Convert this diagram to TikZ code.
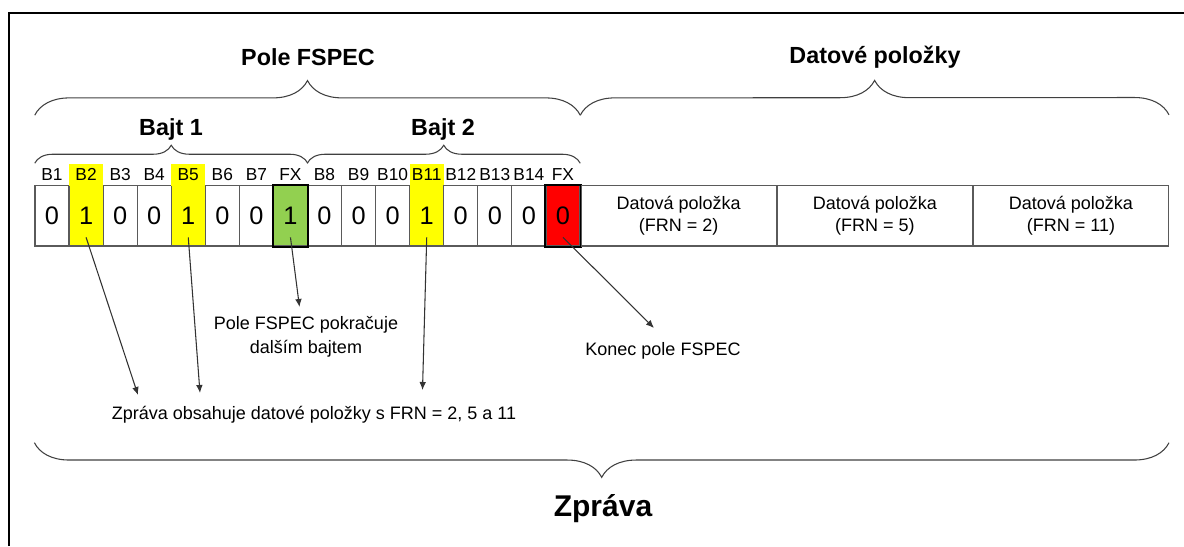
\documentclass[tikz,border=0pt]{standalone}
\usepackage{fontspec}
\setmainfont{Liberation Sans}
\usetikzlibrary{arrows.meta,decorations.pathreplacing}
\definecolor{hiyellow}{HTML}{FFFF00}
\definecolor{fxgreen}{HTML}{92D050}
\definecolor{fxred}{HTML}{FF0000}
\definecolor{cellline}{HTML}{5A5A5A}

\begin{document}
\begin{tikzpicture}[x=0.75pt,y=-0.75pt,
    bit/.style={draw=cellline,line width=0.9pt,minimum width=25.55pt,minimum height=45.5pt,
      inner sep=0pt,font=\fontsize{19}{19}\selectfont},
    item/.style={draw=cellline,line width=0.9pt,minimum width=146.2pt,minimum height=45.5pt,
      inner sep=0pt,align=center,font=\fontsize{13.5}{16.5}\selectfont},
    blabel/.style={minimum width=25.55pt,minimum height=16.5pt,inner sep=0pt,
      font=\fontsize{13}{13}\selectfont},
    fxbox/.style={draw=black,line width=1.6pt},
    title/.style={font=\fontsize{17.5}{17.5}\selectfont\bfseries},
    note/.style={align=center,font=\fontsize{13.5}{18}\selectfont},
    brace/.style={decorate,decoration={brace,amplitude=#1},draw=black!75,line width=0.8pt},
    arr/.style={-{Latex[length=6pt,width=5pt]},line width=0.8pt,draw=black!80}]
\useasboundingbox (0,0) rectangle (1184,546);
% frame (cut at the right and bottom)
\draw[line width=1.6pt] (9,546) -- (9,13) -- (1184,13);

% FSPEC bits
\foreach \b/\f/\h/\l [count=\i] in {0/white/none/B1,1/hiyellow/hiyellow/B2,0/white/none/B3,
    0/white/none/B4,1/hiyellow/hiyellow/B5,0/white/none/B6,0/white/none/B7,1/fxgreen/none/FX,
    0/white/none/B8,0/white/none/B9,0/white/none/B10,1/hiyellow/hiyellow/B11,0/white/none/B12,
    0/white/none/B13,0/white/none/B14,0/fxred/none/FX}
{
  \node[bit,fill=\f] (c\i) at ({35+34.0625*(\i-0.5)},215.75) {\b};
  \node[blabel,fill=\h] (l\i) at ({35+34.0625*(\i-0.5)},174.5) {\l};
}
\draw[fxbox] (c8.north west) rectangle (c8.south east);
\draw[fxbox] (c16.north west) rectangle (c16.south east);

% data items
\node[item,anchor=west] (d1) at (c16.east) {Datová položka\\(FRN = 2)};
\node[item,anchor=west] (d2) at (d1.east) {Datová položka\\(FRN = 5)};
\node[item,anchor=west] (d3) at (d2.east) {Datová položka\\(FRN = 11)};

% braces
\draw[brace=13.5pt] (l1.north west) -- (l8.north east);
\draw[brace=13.5pt] (l9.north west) -- (l16.north east);
\draw[brace=26pt] ([yshift=36pt]l1.north west) -- ([yshift=36pt]l16.north east);
\draw[brace=26pt] ([yshift=36pt]l16.north east) -- ([yshift=52.5pt]d3.north east);
\draw[brace=26pt] ([yshift=-147pt]d3.south east) -- ([yshift=-147pt]c1.south west);

\node[title] (bajt1) at (171,129) {Bajt 1};
\node[title] (bajt2) at (443,129) {Bajt 2};
\node[title] (fspec) at (308,57) {Pole FSPEC};
\node[title] (items) at (875,57) {Datové položky};
\node[font=\fontsize{22.5}{22.5}\selectfont\bfseries] (msgall) at (603,509) {Zpráva};

% notes
\node[note] (cont) at (306,337) {Pole FSPEC pokračuje\\dalším bajtem};
\node[note] (endfs) at (663,351) {Konec pole FSPEC};
\node[note] (frn) at (314,415) {Zpráva obsahuje datové položky s FRN = 2, 5 a 11};

\coordinate (e2) at (138,395);
\coordinate (e5) at (200,393);
\coordinate (e8) at (299.5,307);
\coordinate (e12) at (422.5,390);
\coordinate (e16) at (654,328);
\draw[arr] ([yshift=7pt]c2.south) -- (e2);
\draw[arr] ([yshift=7pt]c5.south) -- (e5);
\draw[arr] ([yshift=7pt]c8.south) -- (e8);
\draw[arr] ([yshift=7pt]c12.south) -- (e12);
\draw[arr] ([yshift=7pt]c16.south) -- (e16);
\end{tikzpicture}
\end{document}
